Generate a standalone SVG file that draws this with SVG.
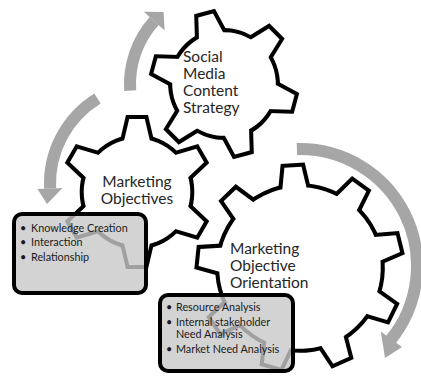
<svg xmlns="http://www.w3.org/2000/svg" width="421" height="376" viewBox="0 0 421 376">
  <style>
    .edge { fill: #000; stroke: #000; stroke-linejoin: miter; }
    .face { fill: #fff; stroke: none; }
    .arrow-body { fill: none; stroke: #a6a6a6; stroke-width: 12; }
    .arrow-head { fill: #a6a6a6; stroke: none; }
    .label { font-family: Lato, "Liberation Sans", sans-serif; font-size: 15.5px; fill: #262626; }
    .box { fill: #c8c8c8; fill-opacity: 0.8; stroke: #000; stroke-width: 4; }
    .item { font-family: Lato, "Liberation Sans", sans-serif; font-size: 10.8px; fill: #1a1a1a; }
  </style>
  <defs>
    <!-- six-tooth gear, outer radius 100 -->
    <path id="tooth6" d="M-18.7,-66 L-10.7,-100 L10.7,-100 L18.7,-66 Z"/>
    <g id="gear6">
      <circle r="73"/>
      <use href="#tooth6"/>
      <use href="#tooth6" transform="rotate(60)"/>
      <use href="#tooth6" transform="rotate(120)"/>
      <use href="#tooth6" transform="rotate(180)"/>
      <use href="#tooth6" transform="rotate(240)"/>
      <use href="#tooth6" transform="rotate(300)"/>
    </g>
    <!-- nine-tooth gear, outer radius 100 -->
    <path id="tooth9" d="M-12.5,-76 L-8.5,-100 L8.5,-100 L12.5,-76 Z"/>
    <g id="gear9">
      <circle r="80"/>
      <use href="#tooth9"/>
      <use href="#tooth9" transform="rotate(40)"/>
      <use href="#tooth9" transform="rotate(80)"/>
      <use href="#tooth9" transform="rotate(120)"/>
      <use href="#tooth9" transform="rotate(160)"/>
      <use href="#tooth9" transform="rotate(200)"/>
      <use href="#tooth9" transform="rotate(240)"/>
      <use href="#tooth9" transform="rotate(280)"/>
      <use href="#tooth9" transform="rotate(320)"/>
    </g>
  </defs>

  <!-- circular arrows -->
  <g id="connectors">
    <g id="arrow-strategy">
      <path class="arrow-body" d="M130.2,90.6 A94,94 0 0 1 154.2,21.1"/>
      <polygon class="arrow-head" points="143.8,11.7 164.6,30.5 163.6,12"/>
    </g>
    <g id="arrow-objectives">
      <path class="arrow-body" d="M97.5,98.5 A100,100 0 0 0 50.1,188.5"/>
      <polygon class="arrow-head" points="37.5,188.9 62.5,188.1 47,204"/>
    </g>
    <g id="arrow-orientation">
      <path class="arrow-body" d="M296.9,149 A117,117 0 0 1 390.9,339.6"/>
      <polygon class="arrow-head" points="380.8,331.4 402,347 385,358"/>
    </g>
  </g>

  <!-- gear: Marketing Objective Orientation -->
  <g id="gear-orientation">
    <use href="#gear9" class="edge" transform="translate(300,268) rotate(-4) scale(1.01)" style="stroke-width:8"/>
    <use href="#gear9" class="face" transform="translate(300,268) rotate(-4) scale(1.01)"/>
    <text class="label" x="230" y="254">Marketing</text>
    <text class="label" x="230" y="271">Objective</text>
    <text class="label" x="230" y="288">Orientation</text>
  </g>

  <!-- gear: Marketing Objectives -->
  <g id="gear-objectives">
    <use href="#gear6" class="edge" transform="translate(137,192) scale(0.73)" style="stroke-width:11"/>
    <use href="#gear6" class="face" transform="translate(137,192) scale(0.73)"/>
    <text class="label" x="137" y="187" text-anchor="middle">Marketing</text>
    <text class="label" x="137" y="203.5" text-anchor="middle">Objectives</text>
  </g>

  <!-- gear: Social Media Content Strategy -->
  <g id="gear-strategy">
    <use href="#gear6" class="edge" transform="translate(224,84) rotate(-15) scale(0.71)" style="stroke-width:11.3"/>
    <use href="#gear6" class="face" transform="translate(224,84) rotate(-15) scale(0.71)"/>
    <text class="label" x="183" y="62">Social</text>
    <text class="label" x="183" y="79">Media</text>
    <text class="label" x="183" y="96">Content</text>
    <text class="label" x="183" y="113">Strategy</text>
  </g>

  <!-- bullet list: objectives -->
  <g id="list-objectives">
    <rect class="box" x="14" y="214" width="132" height="79" rx="8"/>
    <text class="item" x="20" y="231.5">•</text>
    <text class="item" x="31" y="231.5">Knowledge Creation</text>
    <text class="item" x="20" y="246">•</text>
    <text class="item" x="31" y="246">Interaction</text>
    <text class="item" x="20" y="260.5">•</text>
    <text class="item" x="31" y="260.5">Relationship</text>
  </g>

  <!-- bullet list: orientation -->
  <g id="list-orientation">
    <rect class="box" x="160" y="295" width="133" height="76" rx="8"/>
    <text class="item" x="166" y="311">•</text>
    <text class="item" x="176" y="311">Resource Analysis</text>
    <text class="item" x="166" y="325.5">•</text>
    <text class="item" x="176" y="325.5">Internal stakeholder</text>
    <text class="item" x="176" y="338">Need Analysis</text>
    <text class="item" x="166" y="352.5">•</text>
    <text class="item" x="176" y="352.5">Market Need Analysis</text>
  </g>
</svg>
